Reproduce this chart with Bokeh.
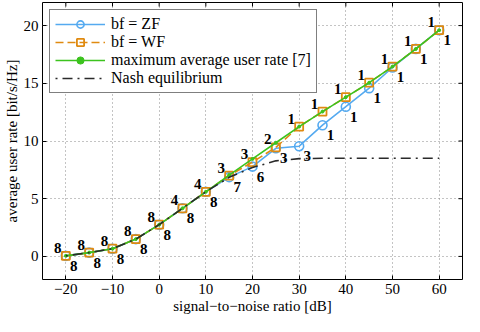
import math
from bokeh.plotting import figure
from bokeh.models import ColumnDataSource, FixedTicker, Range1d
from bokeh.core.properties import value
from bokeh.embed import file_html
from bokeh.resources import INLINE

snr = [-20, -15, -10, -5, 0, 5, 10, 15, 20, 25, 30, 35, 40, 45, 50, 55, 60]
rate_zf = [0.05, 0.33, 0.67, 1.5, 2.75, 4.17, 5.6, 6.87, 7.78, 9.37, 9.55,
           11.37, 12.97, 14.58, 16.37, 17.98, 19.6]
rate_wf = [0.05, 0.33, 0.67, 1.5, 2.75, 4.17, 5.6, 7.0, 8.17, 9.45, 11.25,
           12.55, 13.8, 15.05, 16.45, 17.98, 19.6]
rate_max = [0.05, 0.33, 0.67, 1.5, 2.75, 4.17, 5.6, 7.05, 8.45, 9.85, 11.25,
            12.55, 13.8, 15.05, 16.45, 17.98, 19.6]
rate_nash = [0.05, 0.33, 0.67, 1.5, 2.75, 4.17, 5.6, 6.85, 7.7, 8.28, 8.47,
             8.5, 8.5, 8.5, 8.5, 8.5, 8.5]
upper_labels = ["8", "8", "8", "8", "8", "4", "4", "3", "3", "2", "1",
                "1", "1", "1", "1", "1", "1"]
lower_labels = ["8", "8", "8", "8", "8", "8", "8", "7", "6", "3", "3",
                "1", "1", "1", "1", "1", "1"]
x_ticks = [-20, -10, 0, 10, 20, 30, 40, 50, 60]
y_ticks = [0, 5, 10, 15, 20]
x_lo, x_hi = -25, 65
y_lo, y_hi = -2, 22

SERIF = "Liberation Serif"
FONT = value(SERIF)
BLUE = "#55aaf0"
ORANGE = "#e08a10"
GREEN = "#3cc31e"
BLACK = "#2a2a2a"

p = figure(width=464, height=316, x_range=Range1d(x_lo, x_hi), y_range=Range1d(y_lo, y_hi),
           output_backend="svg", toolbar_location=None,
           min_border_left=30, min_border_right=2, min_border_top=2, min_border_bottom=20)

p.background_fill_color = "white"
p.border_fill_color = "white"
p.outline_line_color = "black"
p.outline_line_width = 1

src = ColumnDataSource(dict(x=snr, zf=rate_zf, wf=rate_wf, mx=rate_max, nash=rate_nash,
                            up=upper_labels, lo=lower_labels))

p.line("x", "zf", source=src, line_color=BLUE, line_width=1.6, legend_label="bf = ZF")
p.scatter("x", "zf", source=src, marker="circle", size=9, line_color=BLUE, line_width=1.6,
          fill_color=None, legend_label="bf = ZF")
p.line("x", "wf", source=src, line_color=ORANGE, line_width=1.6, line_dash="8 4",
       legend_label="bf = WF")
p.scatter("x", "wf", source=src, marker="square", size=8, line_color=ORANGE, line_width=1.8,
          fill_color=None, legend_label="bf = WF")
p.line("x", "mx", source=src, line_color=GREEN, line_width=1.6,
       legend_label="maximum average user rate [7]")
p.scatter("x", "mx", source=src, marker="circle", size=3, line_color=GREEN, fill_color=GREEN,
          legend_label="maximum average user rate [7]")
p.line("x", "nash", source=src, line_color=BLACK, line_width=1.6, line_dash="2 5 10 5",
       legend_label="Nash equilibrium")

p.text("x", "wf", text="up", source=src, x_offset=-8, y_offset=-8, text_align="center",
       text_baseline="middle", text_font=FONT, text_font_style="bold",
       text_font_size="15px", text_color="black")
p.text("x", "zf", text="lo", source=src, x_offset=8, y_offset=10, text_align="center",
       text_baseline="middle", text_font=FONT, text_font_style="bold",
       text_font_size="15px", text_color="black")

# tick marks on the top and right edges of the box
p.scatter(x=x_ticks, y=[y_hi] * len(x_ticks), marker="dash", angle=math.pi / 2, size=8,
          line_color="black", line_width=1)
p.scatter(x=[x_hi] * len(y_ticks), y=y_ticks, marker="dash", size=8,
          line_color="black", line_width=1)

xb = p.below[0]
yl = p.left[0]
xb.ticker = FixedTicker(ticks=x_ticks)
yl.ticker = FixedTicker(ticks=y_ticks)
xb.major_label_overrides = {-20: "\u221220", -10: "\u221210"}
xb.axis_label = "signal\u2212to\u2212noise ratio [dB]"
yl.axis_label = "average user rate [bit/s/Hz]"

for ax in [xb, yl]:
    ax.axis_line_color = None
    ax.major_tick_in = 4
    ax.major_tick_out = 0
    ax.major_tick_line_color = "black"
    ax.minor_tick_line_color = None
    ax.major_label_text_font = SERIF
    ax.major_label_text_font_size = "15px"
    ax.major_label_text_color = "black"
    ax.axis_label_text_font = SERIF
    ax.axis_label_text_font_size = "15px"
    ax.axis_label_text_font_style = "normal"
    ax.axis_label_text_color = "black"
    ax.major_label_standoff = 4
    ax.axis_label_standoff = 1

p.grid.grid_line_color = "#888888"
p.grid.grid_line_dash = "1 3"
p.grid.grid_line_width = 1
p.xgrid.ticker = FixedTicker(ticks=x_ticks)
p.ygrid.ticker = FixedTicker(ticks=y_ticks)

lg = p.legend[0]
lg.location = "top_left"
lg.margin = 7
lg.padding = 5
lg.spacing = 0
lg.label_height = 18
lg.glyph_height = 18
lg.glyph_width = 50
lg.label_standoff = 6
lg.label_text_font = SERIF
lg.label_text_font_size = "16px"
lg.label_text_color = "black"
lg.border_line_color = "black"
lg.border_line_width = 1
lg.background_fill_color = "white"
lg.background_fill_alpha = 1

open("out.html", "w").write(file_html(p, INLINE))
